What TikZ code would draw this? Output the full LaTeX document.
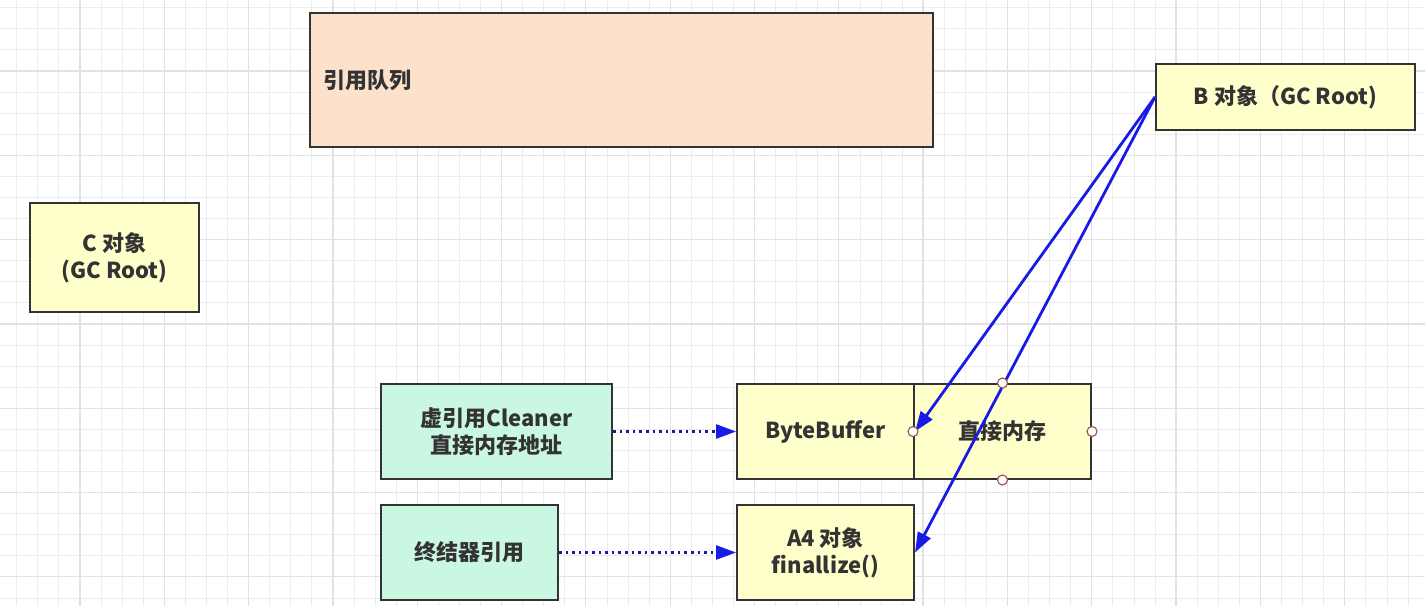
\documentclass[tikz,border=0pt]{standalone}
\usepackage{fontspec}
\setmainfont{Noto Sans CJK SC}
\usetikzlibrary{arrows.meta}

\definecolor{gridmin}{HTML}{ECECEC}
\definecolor{gridmaj}{HTML}{E2E2E2}
\definecolor{queuefill}{HTML}{FDE2CB}
\definecolor{objfill}{HTML}{FFFFCC}
\definecolor{reffill}{HTML}{C9F7E1}
\definecolor{boxline}{HTML}{333333}
\definecolor{refblue}{HTML}{1A1AE6}
\definecolor{dotblue}{HTML}{1A1A9A}
\definecolor{handle}{HTML}{A05A5A}

\tikzset{
  box/.style={draw=boxline, line width=1pt, minimum height=47.5pt, inner sep=2pt,
    align=center, text=boxline, font=\bfseries\fontsize{11}{13.5}\selectfont},
  objbox/.style={box, fill=objfill},
  refbox/.style={box, fill=reffill},
  strongref/.style={refblue, line width=1.4pt, -{Triangle[length=10pt, width=7pt]}},
  weakref/.style={dotblue, line width=1.3pt, dotted, -{Triangle[length=10pt, width=7pt, color=refblue]}},
  grip/.style={circle, draw=handle, fill=white, line width=0.6pt, minimum size=5pt, inner sep=0pt}
}

\begin{document}
\begin{tikzpicture}[x=0.5pt,y=-0.5pt]
\useasboundingbox (0,0) rectangle (1425,606);
% grid
\foreach \i in {0,...,67}
  \draw[gridmin, line width=0.5pt] ({16.8+21.08*\i},0) -- ({16.8+21.08*\i},606);
\foreach \i in {0,...,28}
  \draw[gridmin, line width=0.5pt] (0,{7.8+21.08*\i}) -- (1425,{7.8+21.08*\i});
\foreach \i in {0,...,16}
  \draw[gridmaj, line width=0.6pt] ({80+84.3*\i},0) -- ({80+84.3*\i},606);
\foreach \i in {0,...,6}
  \draw[gridmaj, line width=0.6pt] (0,{71+84.3*\i}) -- (1425,{71+84.3*\i});

% boxes
\node[box, fill=queuefill, minimum width=311.5pt, minimum height=67pt, text width=298.5pt,
  inner xsep=6.5pt, align=left] (queue) at (621.5,80) {引用队列};
\node[objbox, minimum width=129.5pt, minimum height=33pt] (broot) at (1285.5,97) {B 对象（GC Root)};
\node[objbox, minimum width=84.5pt, minimum height=54.5pt] (croot) at (114.5,257.5) {C 对象\\(GC Root)};
\node[refbox, minimum width=115.5pt] (cleaner) at (496.5,431.5) {虚引用Cleaner\\直接内存地址};
\node[objbox, minimum width=88.5pt] (buffer) at (825.5,431.5) {ByteBuffer};
\node[objbox, minimum width=88.5pt] (direct) at (1002.5,431.5) {直接内存};
\node[refbox, minimum width=88.5pt] (finalref) at (469.5,552.5) {终结器引用};
\node[objbox, minimum width=88.5pt] (afour) at (825.5,552.5) {A4 对象\\finallize()};

% references
\draw[weakref] (cleaner.east) -- (buffer.west);
\draw[weakref] (finalref.east) -- (afour.west);
\draw[strongref] (broot.west) -- (buffer.east);
\draw[strongref] (broot.west) -- (afour.east);

% selection handles
\node[grip] (gn) at (direct.north) {};
\node[grip] (gw) at (direct.west) {};
\node[grip] (ge) at (direct.east) {};
\node[grip] (gs) at (direct.south) {};
\end{tikzpicture}
\end{document}
